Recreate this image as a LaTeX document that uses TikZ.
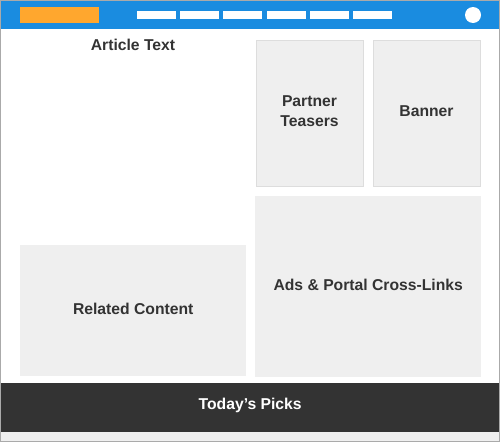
\documentclass[tikz,border=0pt]{standalone}
\usepackage{fontspec}
\setmainfont{Liberation Sans}
\definecolor{hdr}{HTML}{1A8CE0}
\definecolor{logo}{HTML}{FFA72E}
\definecolor{panel}{HTML}{EFEFEF}
\definecolor{panelline}{HTML}{DDDDDD}
\definecolor{txt}{HTML}{333333}
\definecolor{frame}{HTML}{AAAAAA}
\tikzset{
  lbl/.style={font=\fontsize{15.7}{20.5}\selectfont\bfseries, text=txt, align=center},
  navbar/.style={fill=white, draw=none},
  panelbox/.style={fill=panel, draw=panelline, line width=1pt},
  flatbox/.style={fill=panel, draw=none}
}
\begin{document}
\begin{tikzpicture}[x=1pt,y=-1pt]
\useasboundingbox (0,0) rectangle (500,442);
\fill[white] (0,0) rectangle (500,442);
% header
\fill[hdr] (0,0) rectangle (500,29);
\fill[logo] (20,7) rectangle (99,23);
\foreach \i in {0,...,5} {
  \fill[white] ({137+43.2*\i},11) rectangle ({176+43.2*\i},19);
}
\fill[white] (473,15) circle (8);
% panels
\node[panelbox, minimum width=107, minimum height=146, inner sep=0, anchor=north west] (pt) at (255.5,39.5) {};
\node[lbl, yshift=2pt] at (pt.center) {Partner\\Teasers};
\node[panelbox, minimum width=107, minimum height=146, inner sep=0, anchor=north west] (bn) at (372.5,39.5) {};
\node[lbl, yshift=2pt] at (bn.center) {Banner};
\node[flatbox, minimum width=226, minimum height=181, inner sep=0, anchor=north west] (ads) at (255,196) {};
\node[lbl, yshift=2pt] at (ads.center) {Ads \& Portal Cross-Links};
\node[flatbox, minimum width=226, minimum height=131, inner sep=0, anchor=north west] (rc) at (20,245) {};
\node[lbl, yshift=2pt] at (rc.center) {Related Content};
\node[lbl] (at) at (133,45) {Article Text};
% footer
\fill[panel] (0,432) rectangle (500,442);
\node[fill=txt, minimum width=500, minimum height=49, inner sep=0, anchor=north west] (ft) at (0,383) {};
\node[lbl, text=white, yshift=2pt] at (ft.center) {Today’s Picks};
% frame
\draw[frame, line width=1.2pt] (0.6,0.6) rectangle (499.4,441.4);
\end{tikzpicture}
\end{document}
